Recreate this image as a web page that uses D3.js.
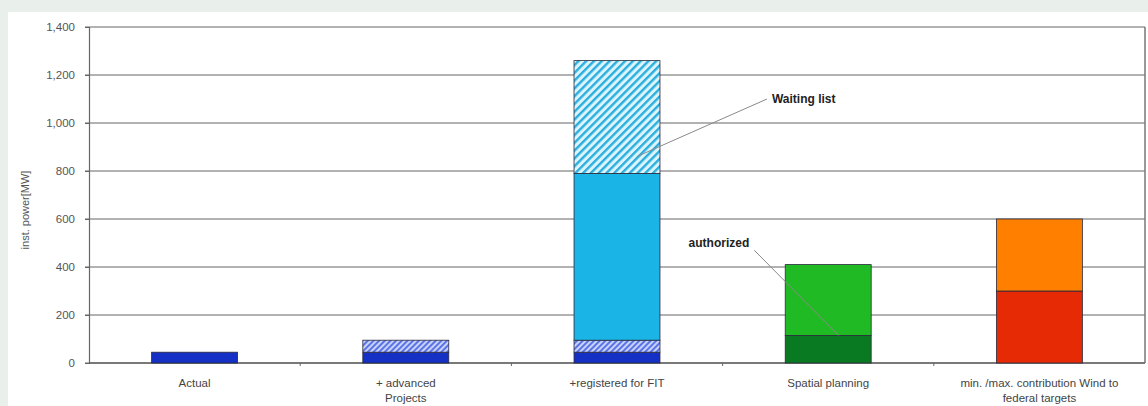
<!DOCTYPE html>
<html>
<head>
<meta charset="utf-8">
<script src="https://cdn.jsdelivr.net/npm/d3@7"></script>
<style>
  html, body { margin: 0; padding: 0; background: #e9efeb; }
  svg { display: block; }
  text { font-family: "Liberation Sans", Arial, sans-serif; }
</style>
</head>
<body>
<svg id="chart" width="1148" height="406"></svg>
<script>
// ---- data ----
const categories = ["Actual", "+ advanced Projects", "+registered for FIT", "Spatial planning", "min. /max. contribution Wind to federal targets"];
const categoryLines = [["Actual"], ["+ advanced", "Projects"], ["+registered for FIT"], ["Spatial planning"], ["min. /max. contribution Wind to", "federal targets"]];
const seriesKeys = ["actual", "advanced", "registered", "waiting", "authorized", "spatial", "minTarget", "maxTarget"];
const actual     = [45, 45, 45, 0, 0];
const advanced   = [0, 50, 50, 0, 0];
const registered = [0, 0, 695, 0, 0];
const waiting    = [0, 0, 470, 0, 0];
const authorized = [0, 0, 0, 115, 0];
const spatial    = [0, 0, 0, 295, 0];
const minTarget  = [0, 0, 0, 0, 300];
const maxTarget  = [0, 0, 0, 0, 300];
const yTicks = [0, 200, 400, 600, 800, 1000, 1200, 1400];
const yTitle = "inst. power[MW]";

const seriesValues = { actual, advanced, registered, waiting, authorized, spatial, minTarget, maxTarget };
const rows = categories.map((c, i) => {
  const r = { category: c };
  seriesKeys.forEach(k => r[k] = seriesValues[k][i]);
  return r;
});

const fills = {
  actual: "#1530c4",
  advanced: "url(#hatchAdv)",
  registered: "#1ab4e6",
  waiting: "url(#hatchWait)",
  authorized: "#0a7a22",
  spatial: "#20bb24",
  minTarget: "#e62a06",
  maxTarget: "#ff7f00"
};

const svg = d3.select("#chart");
// white panel
svg.append("rect").attr("x", 8).attr("y", 12).attr("width", 1140).attr("height", 394).attr("fill", "#ffffff");

const defs = svg.append("defs");
function hatch(id, bg, fg, size, sw) {
  const p = defs.append("pattern").attr("id", id).attr("patternUnits", "userSpaceOnUse")
    .attr("width", size).attr("height", size).attr("patternTransform", "rotate(45)");
  p.append("rect").attr("width", size).attr("height", size).attr("fill", bg);
  p.append("rect").attr("x", 0).attr("y", 0).attr("width", sw).attr("height", size).attr("fill", fg);
}
hatch("hatchWait", "#dcf5fd", "#2aaede", 5.5, 2.4);
hatch("hatchAdv", "#c9d2fb", "#5a74e6", 4, 2);

const x = d3.scaleBand().domain(categories).range([89, 1145]).paddingInner(0.593).paddingOuter(0.2965);
const y = d3.scaleLinear().domain([0, 1400]).range([363, 27]);

// gridlines
const grid = svg.append("g");
grid.selectAll("line").data(yTicks).join("line")
  .attr("x1", 85).attr("x2", 1145)
  .attr("y1", d => y(d)).attr("y2", d => y(d))
  .attr("stroke", "#666").attr("stroke-width", 1.2);
// right border
svg.append("line").attr("x1", 1145).attr("x2", 1145).attr("y1", y(1400)).attr("y2", y(0))
  .attr("stroke", "#777").attr("stroke-width", 1.5);

// y axis
const yAxis = d3.axisLeft(y).tickValues(yTicks).tickSize(4).tickPadding(10).tickFormat(d3.format(","));
const gy = svg.append("g").attr("transform", "translate(89,0)").call(yAxis);
gy.select(".domain").attr("stroke", "#666").attr("stroke-width", 1.2);
gy.selectAll(".tick line").attr("stroke", "#666");
gy.selectAll("text").attr("font-size", 11.5).attr("fill", "#555").attr("font-family", "Liberation Sans, Arial, sans-serif");

// x axis line and boundary ticks
svg.append("line").attr("x1", 89).attr("x2", 1145).attr("y1", y(0)).attr("y2", y(0)).attr("stroke", "#666").attr("stroke-width", 1.3);
const step = x.step();
svg.append("g").selectAll("line").data(categories.slice(1)).join("line")
  .attr("x1", d => x(d) - x.paddingInner() * step / 2).attr("x2", d => x(d) - x.paddingInner() * step / 2)
  .attr("y1", y(0)).attr("y2", y(0) + 3).attr("stroke", "#666");

// bars
const stacked = d3.stack().keys(seriesKeys)(rows);
const barG = svg.append("g");
stacked.forEach(s => {
  barG.append("g").selectAll("rect").data(s.filter(d => d[1] - d[0] > 0)).join("rect")
    .attr("x", d => x(d.data.category))
    .attr("width", x.bandwidth())
    .attr("y", d => y(d[1]))
    .attr("height", d => y(d[0]) - y(d[1]))
    .attr("fill", fills[s.key])
    .attr("stroke", "#2a2a3a").attr("stroke-width", 0.8);
});

// category labels
const lab = svg.append("g");
categories.forEach((c, i) => {
  const t = lab.append("text").attr("x", x(c) + x.bandwidth() / 2).attr("y", 387)
    .attr("text-anchor", "middle").attr("font-size", 11.5).attr("fill", "#444");
  categoryLines[i].forEach((ln, j) => {
    t.append("tspan").attr("x", x(c) + x.bandwidth() / 2).attr("dy", j === 0 ? 0 : 15).text(ln);
  });
});

// y title
svg.append("text").attr("transform", `translate(29,${(y(0) + y(1400)) / 2 + 15}) rotate(-90)`)
  .attr("text-anchor", "middle").attr("font-size", 11).attr("fill", "#555").text(yTitle);

// annotations
const fit = categories[2], sp = categories[3];
const wEnd = [x(fit) + x.bandwidth() * 0.73, y(860)];
const wStart = [x(fit) + x.bandwidth() + 107, y(1100)];
svg.append("line").attr("x1", wStart[0]).attr("y1", wStart[1]).attr("x2", wEnd[0]).attr("y2", wEnd[1])
  .attr("stroke", "#8a8a8a").attr("stroke-width", 1);
svg.append("text").attr("x", wStart[0] + 5).attr("y", wStart[1] + 4).attr("font-size", 12)
  .attr("font-weight", "bold").attr("fill", "#222").text("Waiting list");

const aEnd = [x(sp) + x.bandwidth() * 0.62, y(authorized[3])];
const aStart = [x(sp) - 31, y(470)];
svg.append("line").attr("x1", aStart[0]).attr("y1", aStart[1]).attr("x2", aEnd[0]).attr("y2", aEnd[1])
  .attr("stroke", "#8a8a8a").attr("stroke-width", 1);
svg.append("text").attr("x", aStart[0] - 5).attr("y", aStart[1] - 3).attr("text-anchor", "end").attr("font-size", 12)
  .attr("font-weight", "bold").attr("fill", "#222").text("authorized");
</script>
</body>
</html>
